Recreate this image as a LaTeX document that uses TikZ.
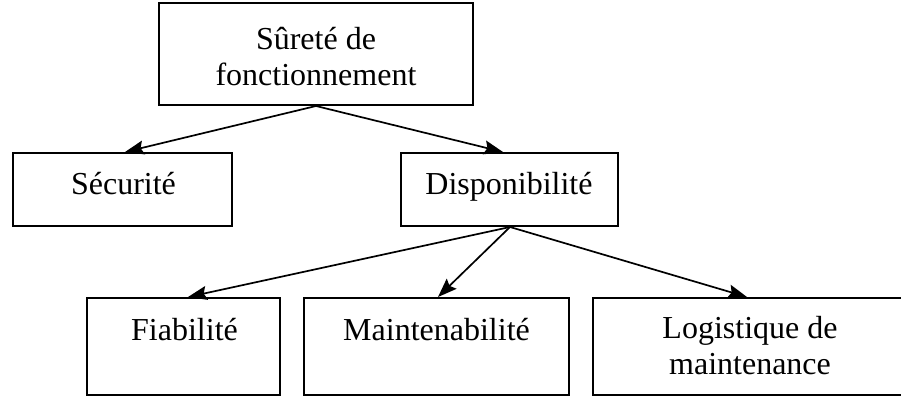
\documentclass[tikz,border=0pt]{standalone}
\usepackage{fontspec}
\setmainfont{Liberation Serif}
\usetikzlibrary{arrows.meta}
\begin{document}
\begin{tikzpicture}[x=1pt,y=-1pt,
  boxnode/.style={draw,line width=2pt,inner sep=0pt,rectangle},
  txt/.style={anchor=base,inner sep=0pt,font=\fontsize{32}{36}\selectfont},
  conn/.style={line width=1.7pt,-{Stealth[length=19pt,width=14pt,inset=3pt]}}]
\useasboundingbox (0,0) rectangle (901,396);
\fill[white] (0,0) rectangle (901,396);
% boxes
\node[boxnode,minimum width=314pt,minimum height=102pt] (sdf) at (316,54) {};
\node[boxnode,minimum width=219pt,minimum height=73pt] (sec) at (122.5,189.5) {};
\node[boxnode,minimum width=217pt,minimum height=73pt] (dis) at (509.5,189.5) {};
\node[boxnode,minimum width=193pt,minimum height=97pt] (fia) at (183.5,346.5) {};
\node[boxnode,minimum width=265pt,minimum height=97pt] (mai) at (436.5,346.5) {};
\node[boxnode,minimum width=314pt,minimum height=97pt] (log) at (750,346.5) {};
% texts
\node[txt] (sdfa) at (316,49) {Sûreté de};
\node[txt] (sdfb) at (316,85) {fonctionnement};
\node[txt] (sect) at (123.5,194) {Sécurité};
\node[txt] (dist) at (509,194) {Disponibilité};
\node[txt] (fiat) at (184.5,340) {Fiabilité};
\node[txt] (mait) at (436.5,340) {Maintenabilité};
\node[txt] (loga) at (750,338) {Logistique de};
\node[txt] (logb) at (750,374) {maintenance};
% connectors
\draw[conn] (sdf.south) -- ([xshift=2.5pt]sec.north);
\draw[conn] (sdf.south) -- ([xshift=-6.5pt]dis.north);
\draw[conn] ([xshift=0.5pt]dis.south) -- ([xshift=4.5pt]fia.north);
\draw[conn] ([xshift=0.5pt]dis.south) -- ([xshift=1.5pt]mai.north);
\draw[conn] ([xshift=0.5pt]dis.south) -- ([xshift=-3pt]log.north);
\end{tikzpicture}
\end{document}
